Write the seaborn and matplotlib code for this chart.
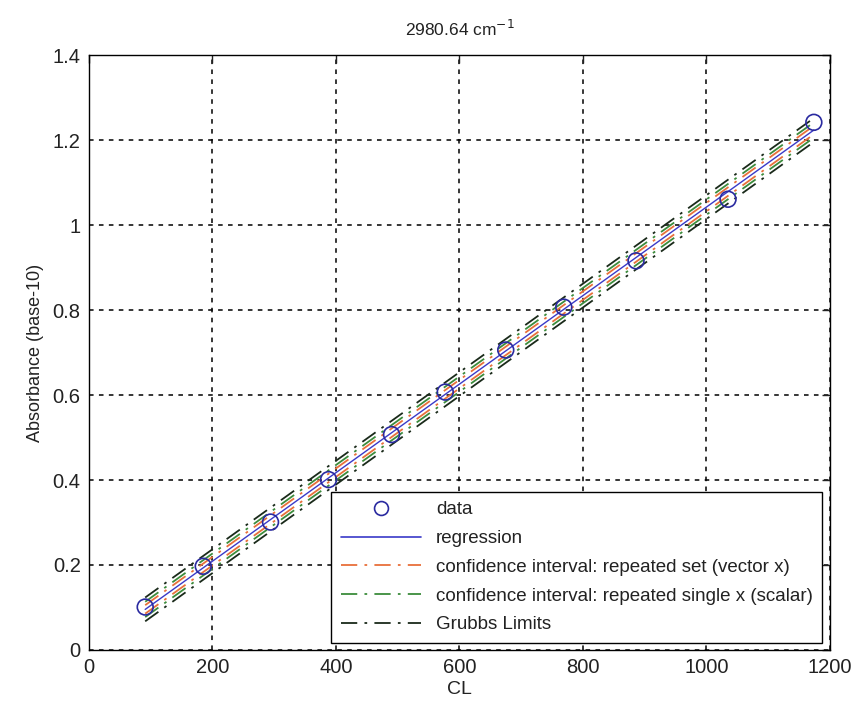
import numpy as np
import pandas as pd
import matplotlib
matplotlib.use("Agg")
import matplotlib.pyplot as plt
import seaborn as sns
from matplotlib.lines import Line2D

# ---- data ----
cl = [91, 185, 294, 388, 490, 577, 675, 769, 886, 1035, 1174]
absorbance = [0.101, 0.197, 0.301, 0.401, 0.507, 0.607, 0.706, 0.807, 0.916, 1.061, 1.242]

# half-widths of the bands (absorbance units)
ci_vector_half = 0.010
ci_scalar_half = 0.018
grubbs_half = 0.028

title_text = "2980.64 cm$^{-1}$"
xlabel_text = "CL"
ylabel_text = "Absorbance (base-10)"
legend_labels = ["data", "regression",
                 "confidence interval: repeated set (vector x)",
                 "confidence interval: repeated single x (scalar)",
                 "Grubbs Limits"]
x_ticks = [0, 200, 400, 600, 800, 1000, 1200]
y_ticks = [0, 0.2, 0.4, 0.6, 0.8, 1.0, 1.2, 1.4]
y_tick_labels = ["0", "0.2", "0.4", "0.6", "0.8", "1", "1.2", "1.4"]

sns.set_theme(style="white")
plt.rcParams["font.family"] = ["Liberation Sans", "DejaVu Sans"]

slope, intercept = np.polyfit(cl, absorbance, 1)
df = pd.DataFrame({"CL": cl, "A": absorbance})
df["fit"] = intercept + slope * df["CL"]

fig = plt.figure(figsize=(8.6, 7.08), dpi=100)
ax = fig.add_axes([0.1035, 0.082, 0.8615, 0.84])

dashdot = (0, (9, 4, 1.5, 4))
c_orange = "#e8703a"
c_green = "#3c8c3c"
c_black = "#1a2a1a"

for half, col in [(grubbs_half, c_black), (ci_scalar_half, c_green), (ci_vector_half, c_orange)]:
    for sgn in (1, -1):
        sns.lineplot(x=df["CL"], y=df["fit"] + sgn * half, ax=ax, color=col,
                     linestyle=dashdot, linewidth=1.3, legend=False)

sns.lineplot(x=df["CL"], y=df["fit"], ax=ax, color="#3a3ac8", linewidth=1.0, legend=False)
sns.scatterplot(x=df["CL"], y=df["A"], ax=ax, marker="o", s=130, facecolor="none",
                edgecolor="#2a2aa0", linewidth=1.2, legend=False, zorder=5)

ax.set_xlim(0, 1200)
ax.set_ylim(0, 1.4)
ax.set_xticks(x_ticks)
ax.set_xticklabels([str(t) for t in x_ticks])
ax.set_yticks(y_ticks)
ax.set_yticklabels(y_tick_labels)
ax.grid(True, color="black", linestyle=(0, (3, 3.5)), linewidth=1.1)
ax.tick_params(direction="in", length=6, width=1, top=True, right=True,
               labelsize=14.5, colors="#222222", pad=6)
for s in ax.spines.values():
    s.set_color("black")
    s.set_linewidth(1.0)
ax.set_xlabel(xlabel_text, fontsize=14, labelpad=3, color="#222222")
ax.set_ylabel(ylabel_text, fontsize=13, labelpad=6, color="#222222")
ax.set_title(title_text, fontsize=12.5, pad=14, color="#222222")

handles = [
    Line2D([], [], marker="o", linestyle="none", markersize=10, markerfacecolor="none",
           markeredgecolor="#2a2aa0", markeredgewidth=1.2),
    Line2D([], [], color="#3a3ac8", linewidth=1.2),
    Line2D([], [], color=c_orange, linestyle=dashdot, linewidth=1.3),
    Line2D([], [], color=c_green, linestyle=dashdot, linewidth=1.3),
    Line2D([], [], color=c_black, linestyle=dashdot, linewidth=1.3),
]
leg = ax.legend(handles, legend_labels, loc="lower right", bbox_to_anchor=(0.99, 0.012),
                fontsize=13.5, frameon=True, fancybox=False, framealpha=1,
                edgecolor="black", handlelength=4.3, handletextpad=0.8,
                labelspacing=0.62, borderpad=0.5, borderaxespad=0)
leg.get_frame().set_linewidth(1.0)
for t in leg.get_texts():
    t.set_color("#222222")
leg.set_zorder(10)

fig.savefig("out.png", dpi=100)
